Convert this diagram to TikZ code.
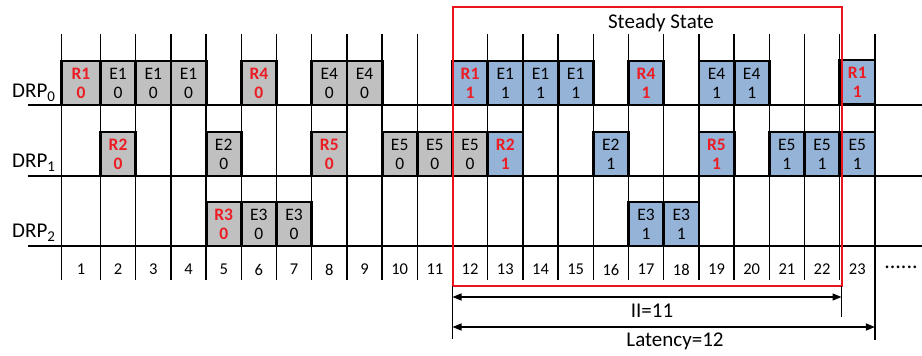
\documentclass[tikz,border=0pt]{standalone}
\usepackage{fontspec}
\setmainfont{Carlito}
\usetikzlibrary{arrows.meta}
\definecolor{boxgray}{RGB}{192,192,192}
\definecolor{boxblue}{RGB}{149,179,215}
\definecolor{rtxt}{RGB}{236,28,36}
\definecolor{ssred}{RGB}{236,20,28}

\newcommand\slot[6]{%
  \pgfmathsetmacro\slotX{(#2==1) ? 81 : 100.5+35.2*(#2-2)+17.6}%
  \pgfmathsetmacro\slotW{(#2==1) ? 39 : 35.2}%
  \node[#4, minimum width=\slotW pt] (#1) at (\slotX,#3-22) {#5\\#6};%
}

\begin{document}
\begin{tikzpicture}[x=1pt,y=-1pt,
  gridline/.style={line width=1.4pt, black},
  cell/.style={draw=black, line width=2.8pt, minimum height=44pt, inner sep=0pt,
    outer sep=0pt, align=center, font=\fontsize{17.5}{19}\selectfont},
  ge/.style={cell, fill=boxgray},
  gr/.style={cell, fill=boxgray, text=rtxt, font=\fontsize{17.5}{19}\selectfont\bfseries},
  be/.style={cell, fill=boxblue},
  br/.style={cell, fill=boxblue, text=rtxt, font=\fontsize{17.5}{19}\selectfont\bfseries},
  numlab/.style={inner sep=0pt, font=\fontsize{16.5}{18}\selectfont},
  drplab/.style={inner sep=0pt, anchor=base west, font=\fontsize{21}{24}\selectfont},
  biglab/.style={inner sep=0pt, anchor=base, font=\fontsize{21}{24}\selectfont},
  dim/.style={line width=1.3pt, {Triangle[length=9pt,width=7pt]}-{Triangle[length=9pt,width=7pt]}},
  tick/.style={line width=1.3pt}
]
\useasboundingbox (0,0) rectangle (922,356);

% grid
\foreach \k in {1,...,24} {
  \pgfmathsetmacro\gx{(\k==1) ? 61.5 : 100.5+35.2*(\k-2)}
  \draw[gridline] (\gx,34) -- (\gx,280);
}
\foreach \yy in {105,176,246} {
  \draw[gridline] (28,\yy) -- (922,\yy);
}

% row labels
\node[drplab] (drp0) at (12,97) {DRP\raisebox{-4pt}{\fontsize{15}{15}\selectfont 0}};
\node[drplab] (drp1) at (12,167) {DRP\raisebox{-4pt}{\fontsize{15}{15}\selectfont 1}};
\node[drplab] (drp2) at (12,237) {DRP\raisebox{-4pt}{\fontsize{15}{15}\selectfont 2}};

% DRP0 row
\slot{a1}{1}{105}{gr}{R1}{0}
\slot{a2}{2}{105}{ge}{E1}{0}
\slot{a3}{3}{105}{ge}{E1}{0}
\slot{a4}{4}{105}{ge}{E1}{0}
\slot{a6}{6}{105}{gr}{R4}{0}
\slot{a8}{8}{105}{ge}{E4}{0}
\slot{a9}{9}{105}{ge}{E4}{0}
\slot{a12}{12}{105}{br}{R1}{1}
\slot{a13}{13}{105}{be}{E1}{1}
\slot{a14}{14}{105}{be}{E1}{1}
\slot{a15}{15}{105}{be}{E1}{1}
\slot{a17}{17}{105}{br}{R4}{1}
\slot{a19}{19}{105}{be}{E4}{1}
\slot{a20}{20}{105}{be}{E4}{1}
\slot{a23}{23}{104}{br}{R1}{1}

% DRP1 row
\slot{b2}{2}{176}{gr}{R2}{0}
\slot{b5}{5}{176}{ge}{E2}{0}
\slot{b8}{8}{176}{gr}{R5}{0}
\slot{b10}{10}{176}{ge}{E5}{0}
\slot{b11}{11}{176}{ge}{E5}{0}
\slot{b12}{12}{176}{ge}{E5}{0}
\slot{b13}{13}{176}{br}{R2}{1}
\slot{b16}{16}{176}{be}{E2}{1}
\slot{b19}{19}{176}{br}{R5}{1}
\slot{b21}{21}{176}{be}{E5}{1}
\slot{b22}{22}{176}{be}{E5}{1}
\slot{b23}{23}{176}{be}{E5}{1}

% DRP2 row
\slot{c5}{5}{246}{gr}{R3}{0}
\slot{c6}{6}{246}{ge}{E3}{0}
\slot{c7}{7}{246}{ge}{E3}{0}
\slot{c17}{17}{246}{be}{E3}{1}
\slot{c18}{18}{246}{be}{E3}{1}

% cycle numbers
\foreach \k in {1,...,23} {
  \pgfmathsetmacro\nx{(\k==1) ? 81 : 100.5+35.2*(\k-2)+17.6}
  \node[numlab] (n\k) at (\nx,269.5) {\k};
}
\node[inner sep=0pt, font=\fontsize{22}{22}\selectfont] (dots) at (901,267) {......};

% steady state box
\draw[ssred, line width=2pt] (452.5,7) rectangle (841.5,286);
\node[biglab] (ss) at (661,28) {Steady State};

% dimension lines
\coordinate (t1a) at (452.5,286);
\coordinate (t1b) at (452.5,339);
\coordinate (t2a) at (841.5,286);
\coordinate (t2b) at (841.5,317);
\coordinate (t3a) at (874.9,280);
\coordinate (t3b) at (874.9,340);
\draw[tick] (t1a) -- (t1b);
\draw[tick] (t2a) -- (t2b);
\draw[tick] (t3a) -- (t3b);
\coordinate (iiL) at (452.5,297);
\coordinate (iiR) at (841.5,297);
\coordinate (latL) at (452.5,327);
\coordinate (latR) at (874.9,327);
\draw[dim] (iiL) -- (iiR);
\draw[dim] (latL) -- (latR);
\node[biglab] (ii) at (652,317) {II=11};
\node[biglab] (lat) at (675,346) {Latency=12};
\end{tikzpicture}
\end{document}
